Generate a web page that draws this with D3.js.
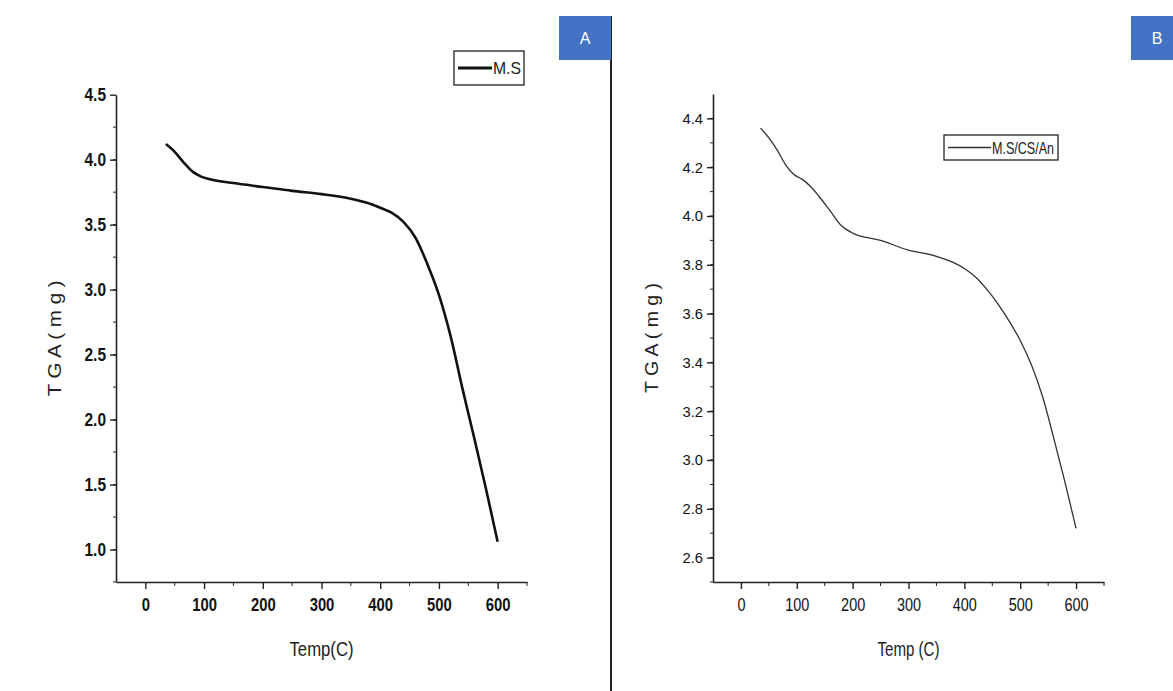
<!DOCTYPE html>
<html>
<head>
<meta charset="utf-8">
<script src="https://cdn.jsdelivr.net/npm/d3@7"></script>
<style>
body { margin: 0; background: #fff; }
svg { display: block; }
text { font-family: "Liberation Sans", Arial, sans-serif; }
</style>
</head>
<body>
<svg></svg>
<script>
const size = {w: 1173, h: 691};
const svg = d3.select('svg').attr('width', size.w).attr('height', size.h);

// panel A : M.S
const tempA = [35, 50, 65, 80, 95, 110, 150, 200, 250, 300, 350, 380, 400, 420, 440, 460, 480, 500, 520, 540, 560, 580, 600];
const tgaA  = [4.12, 4.06, 3.98, 3.91, 3.87, 3.85, 3.82, 3.79, 3.76, 3.735, 3.70, 3.665, 3.63, 3.59, 3.52, 3.40, 3.20, 2.96, 2.64, 2.24, 1.86, 1.47, 1.06];
const yTicksA = [1.0, 1.5, 2.0, 2.5, 3.0, 3.5, 4.0, 4.5];

// panel B : M.S/CS/An
const tempB = [35, 50, 65, 80, 95, 110, 125, 140, 160, 180, 200, 250, 300, 350, 380, 400, 420, 440, 460, 480, 500, 520, 540, 560, 580, 600];
const tgaB  = [4.36, 4.32, 4.27, 4.21, 4.17, 4.15, 4.12, 4.08, 4.02, 3.96, 3.93, 3.90, 3.86, 3.835, 3.81, 3.785, 3.75, 3.70, 3.64, 3.57, 3.49, 3.39, 3.26, 3.09, 2.91, 2.72];
const yTicksB = [2.6, 2.8, 3.0, 3.2, 3.4, 3.6, 3.8, 4.0, 4.2, 4.4];

const xTicks = [0, 100, 200, 300, 400, 500, 600];

// squeeze text horizontally to mimic the narrow font of the original
function condense(sel, f) {
    sel.each(function() {
        const w = this.getComputedTextLength();
        d3.select(this).attr('textLength', w * f).attr('lengthAdjust', 'spacingAndGlyphs');
    });
}

// panel A
drawPanel({
    x0: 116, x1: 527, y0: 582, y1: 94.7,
    xDomain: [-50, 650], yDomain: [0.75, 4.5],
    yTicks: yTicksA, yMinor: d3.range(0.75, 4.5, 0.25),
    temps: tempA, vals: tgaA, lineW: 2.6, lineCol: '#111',
    yTick: {size: 18, weight: 'bold', f: 0.86},
    xTick: {size: 19, weight: 'bold', f: 0.78},
    yLabelLen: 116, xLabel: 'Temp(C)', xLabelLen: 64,
    legend: {x: 454, y: 51, w: 70, h: 34, text: 'M.S', lineLen: 34, fs: 17, tl: 28}
});

// panel B
drawPanel({
    x0: 713, x1: 1104, y0: 582, y1: 94,
    xDomain: [-50, 650], yDomain: [2.5, 4.5],
    yTicks: yTicksB, yMinor: d3.range(2.5, 4.5, 0.1),
    temps: tempB, vals: tgaB, lineW: 1.3, lineCol: '#333',
    yTick: {size: 15.5, weight: 'normal', f: 0.95},
    xTick: {size: 19, weight: 'normal', f: 0.76},
    yLabelLen: 110, xLabel: 'Temp (C)', xLabelLen: 62,
    legend: {x: 944, y: 135, w: 114, h: 25, text: 'M.S/CS/An', lineLen: 43, fs: 17, tl: 62}
});

function drawPanel(p) {
    const x = d3.scaleLinear().domain(p.xDomain).range([p.x0, p.x1]);
    const y = d3.scaleLinear().domain(p.yDomain).range([p.y0, p.y1]);
    const g = svg.append('g');

    // y axis
    const yAx = g.append('g').attr('transform', `translate(${p.x0},0)`)
        .call(d3.axisLeft(y).tickValues(p.yTicks).tickFormat(d3.format('.1f'))
            .tickSize(6).tickSizeOuter(0).tickPadding(4));
    yAx.append('g').selectAll('line').data(p.yMinor).join('line')
        .attr('x1', -3).attr('x2', 0).attr('y1', d => y(d)).attr('y2', d => y(d))
        .attr('stroke', '#222');

    // x axis
    const xAx = g.append('g').attr('transform', `translate(0,${p.y0})`)
        .call(d3.axisBottom(x).tickValues(xTicks).tickSize(7).tickSizeOuter(0).tickPadding(9));
    xAx.append('g').selectAll('line').data(d3.range(50, 651, 100)).join('line')
        .attr('x1', d => x(d)).attr('x2', d => x(d)).attr('y1', 0).attr('y2', 4)
        .attr('stroke', '#222');

    [[yAx, p.yTick], [xAx, p.xTick]].forEach(([a, t]) => {
        a.select('.domain').attr('stroke', '#222').attr('stroke-width', 1.6);
        a.selectAll('.tick line').attr('stroke', '#222').attr('stroke-width', 1.4);
        a.selectAll('.tick text')
            .attr('fill', '#111')
            .style('font-family', 'Liberation Sans, Arial, sans-serif')
            .style('font-size', t.size + 'px')
            .style('font-weight', t.weight)
            .call(condense, t.f);
    });

    // titles
    g.append('text')
        .attr('transform', `translate(${p.x0 - 55},${(p.y0 + p.y1) / 2}) rotate(-90)`)
        .attr('text-anchor', 'middle')
        .style('font-size', '18px')
        .attr('fill', '#222')
        .attr('textLength', p.yLabelLen).attr('lengthAdjust', 'spacingAndGlyphs')
        .text('T G A ( m g )');

    g.append('text')
        .attr('x', x(300)).attr('y', 656)
        .attr('text-anchor', 'middle')
        .style('font-size', '20px')
        .attr('fill', '#222')
        .attr('textLength', p.xLabelLen).attr('lengthAdjust', 'spacingAndGlyphs')
        .text(p.xLabel);

    // data line
    const pts = p.temps.map((t, i) => [t, p.vals[i]]);
    g.append('path')
        .datum(pts)
        .attr('d', d3.line().x(d => x(d[0])).y(d => y(d[1])).curve(d3.curveMonotoneX))
        .attr('fill', 'none')
        .attr('stroke', p.lineCol)
        .attr('stroke-width', p.lineW);

    // legend
    const L = p.legend;
    const lg = g.append('g').attr('transform', `translate(${L.x},${L.y})`);
    lg.append('rect').attr('width', L.w).attr('height', L.h)
        .attr('fill', '#fff').attr('stroke', '#222').attr('stroke-width', 1.3);
    lg.append('line').attr('x1', 4).attr('x2', 4 + L.lineLen)
        .attr('y1', L.h / 2).attr('y2', L.h / 2)
        .attr('stroke', p.lineCol).attr('stroke-width', p.lineW + 0.4);
    lg.append('text')
        .attr('x', 5 + L.lineLen).attr('y', L.h / 2 + 6)
        .style('font-size', L.fs + 'px').attr('fill', '#222')
        .attr('textLength', L.tl).attr('lengthAdjust', 'spacingAndGlyphs')
        .text(L.text);
}

// divider and panel tags
svg.append('line').attr('x1', 611).attr('x2', 611).attr('y1', 16).attr('y2', size.h)
    .attr('stroke', '#222').attr('stroke-width', 2);

const tags = [{t: 'A', x: 559}, {t: 'B', x: 1131}];
tags.forEach(d => {
    svg.append('rect').attr('x', d.x).attr('y', 16).attr('width', 52).attr('height', 44)
        .attr('fill', '#4472C4');
    svg.append('text').attr('x', d.x + 26).attr('y', 44)
        .attr('text-anchor', 'middle')
        .style('font-size', '16px').attr('fill', '#fff')
        .text(d.t);
});
</script>
</body>
</html>
